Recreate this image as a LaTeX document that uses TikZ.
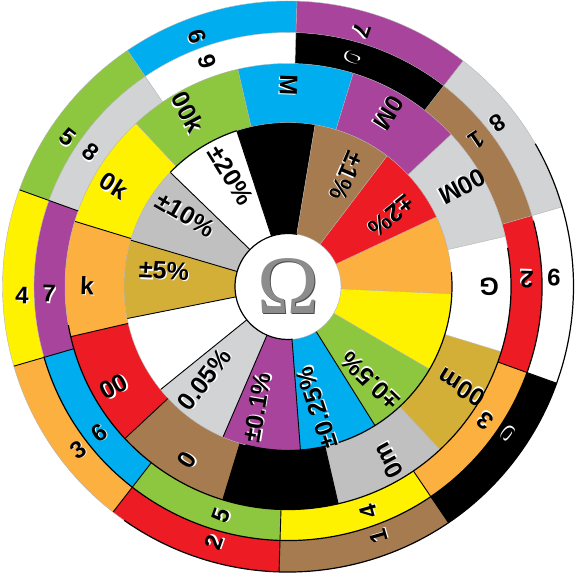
\documentclass[tikz,border=0pt]{standalone}
\usepackage{fontspec}
\setmainfont{Liberation Sans}
\newfontfamily\omegafont{Liberation Serif}
\definecolor{cblack}{HTML}{000000}
\definecolor{cbrown}{HTML}{A67B50}
\definecolor{cred}{HTML}{ED1C24}
\definecolor{corange}{HTML}{FBB040}
\definecolor{cyellow}{HTML}{FFF200}
\definecolor{cgreen}{HTML}{8DC63F}
\definecolor{cblue}{HTML}{00AEEF}
\definecolor{cviolet}{HTML}{A8449C}
\definecolor{cgray}{HTML}{D1D3D4}
\definecolor{cwhite}{HTML}{FFFFFF}
\definecolor{cgold}{HTML}{D4AF37}
\definecolor{csilver}{HTML}{C0C0C0}
\newcommand\ringseg[5]{%
  \fill[#1] (#2:#4) arc[start angle=#2, end angle=#3, radius=#4] -- (#3:#5) arc[start angle=#3, end angle=#2, radius=#5] -- cycle;}
\newcommand\ringarc[4]{%
  \draw[#1] (#2:#4) arc[start angle=#2, end angle=#3, radius=#4];}
\newcommand\shadowtext[1]{\rlap{\hspace{1.2pt}\raisebox{-1.2pt}{\color{white}#1}}#1}
\newcommand\seglabel[6]{%
  \node[lbltext=#4, rotate=#6] (#1) at (#2:#3) {\shadowtext{#5}};}
\begin{document}
\begin{tikzpicture}[x=1pt,y=1pt,
  lbltext/.style={inner sep=0pt, text=black, font=\bfseries\fontsize{#1}{#1}\selectfont},
  edgedark/.style={draw=black, line width=0.9pt},
  edgelight/.style={draw=black!30, line width=0.4pt},
  arcdark/.style={draw=black, line width=1.2pt},
  arclight/.style={draw=black!30, line width=0.4pt}]
\useasboundingbox (-288,-291.5) rectangle (292,286.5);
% ring A (outer digits)
\foreach \s/\c in {88.2/cblue, 124.2/cgreen, 160.2/cyellow, 196.2/corange, 232.2/cred, 268.2/cbrown, 304.2/cblack, 340.2/cwhite, 376.2/cgray, 412.2/cviolet}{
  \pgfmathsetmacro\e{\s+36}
  \ringseg{\c}{\s}{\e}{254}{285.5}}
% ring B (second digit)
\foreach \s/\c in {88.2/cwhite, 124.2/cgray, 160.2/cviolet, 196.2/cblue, 232.2/cgreen, 268.2/cyellow, 304.2/corange, 340.2/cred, 376.2/cbrown, 412.2/cblack}{
  \pgfmathsetmacro\e{\s+36}
  \ringseg{\c}{\s}{\e}{223}{254}}
% ring C (multiplier)
\foreach \c [count=\i from 0] in {cblue, cgreen, cyellow, corange, cred, cbrown, cblack, csilver, cgold, cwhite, cgray, cviolet}{
  \pgfmathsetmacro\s{73+30*\i}
  \pgfmathsetmacro\e{\s+30}
  \ringseg{\c}{\s}{\e}{164}{223}}
% ring D (tolerance)
\foreach \c [count=\i from 0] in {cblack, cwhite, csilver, cgold, cwhite, cgray, cviolet, cblue, cgreen, cyellow, corange, cred, cbrown}{
  \pgfmathsetmacro\s{80.5+\i*360/13}
  \pgfmathsetmacro\e{\s+360/13}
  \ringseg{\c}{\s}{\e}{52}{164}}
% centre disc
\fill[white] (0,0) circle[radius=53];
% radial edges
\foreach \s in {88.2,124.2,160.2,196.2,232.2,268.2,304.2,340.2,16.2,52.2}{
  \pgfmathtruncatemacro\dk{and(\s>=150,\s<=345)}
  \ifnum\dk=1 \draw[edgedark] (\s:223) -- (\s:285.5); \else \draw[edgelight] (\s:223) -- (\s:285.5); \fi}
\foreach \i in {0,...,11}{
  \pgfmathsetmacro\s{mod(73+30*\i,360)}
  \pgfmathtruncatemacro\dk{and(\s>=150,\s<=300)}
  \ifnum\dk=1 \draw[edgedark] (\s:164) -- (\s:223); \else \draw[edgelight] (\s:164) -- (\s:223); \fi}
\foreach \i in {0,...,12}{
  \pgfmathsetmacro\s{mod(80.5+\i*360/13,360)}
  \pgfmathtruncatemacro\dk{and(\s>=100,\s<=310)}
  \ifnum\dk=1 \draw[edgedark] (\s:53) -- (\s:164); \else \draw[edgelight] (\s:53) -- (\s:164); \fi}
% circular edges
\ringarc{arclight}{30}{235}{285.5}
\ringarc{arcdark}{235}{390}{285.5}
\ringarc{arclight}{15}{196}{254}
\ringarc{arcdark}{196}{375}{254}
\ringarc{arclight}{10}{190}{223}
\ringarc{arcdark}{190}{370}{223}
\ringarc{arclight}{5}{108.2}{164}
\ringarc{arcdark}{108.2}{135.9}{164}
\ringarc{arclight}{135.9}{255}{164}
\ringarc{arcdark}{255}{365}{164}
\ringarc{arcdark}{80}{275}{53}
\ringarc{arclight}{275}{440}{53}
% ring A labels
\foreach \s/\t [count=\i] in {88.2/6, 124.2/5, 160.2/4, 196.2/3, 232.2/2, 268.2/1, 304.2/0, 340.2/9, 376.2/8, 412.2/7}{
  \pgfmathsetmacro\la{\s+21.8}
  \pgfmathsetmacro\ro{\s+18+180}
  \seglabel{A\i}{\la}{266}{24}{\t}{\ro}}
% ring B labels
\foreach \s/\t [count=\i] in {88.2/9, 124.2/8, 160.2/7, 196.2/6, 232.2/5, 268.2/4, 304.2/3, 340.2/2, 376.2/1, 412.2/0}{
  \pgfmathsetmacro\la{\s+21.7}
  \pgfmathsetmacro\ro{\s+18+180}
  \seglabel{B\i}{\la}{239}{24}{\t}{\ro}}
% ring C labels
\foreach \k/\t in {0/M, 1/00k, 2/0k, 3/k, 4/00, 5/0, 7/0m, 8/00m, 9/G, 10/00M, 11/0M}{
  \pgfmathsetmacro\la{73+30*\k+17}
  \pgfmathsetmacro\ro{73+30*\k+15+180}
  \seglabel{C\k}{\la}{201}{25}{\t}{\ro}}
% ring D labels
\foreach \k/\t in {1/{±20\%}, 2/{±10\%}, 3/{±5\%}, 5/{0.05\%}, 6/{±0.1\%}, 7/{±0.25\%}, 8/{±0.5\%}, 11/{±2\%}, 12/{±1\%}}{
  \pgfmathsetmacro\la{80.5+\k*360/13+9.35}
  \pgfmathsetmacro\ro{80.5+\k*360/13+13.85+180}
  \seglabel{D\k}{\la}{125}{25}{\t}{\ro}}
% omega
\node[inner sep=0pt, text=black!45, font=\omegafont\fontsize{83}{83}\selectfont] (omega) at (0,0)
  {\rlap{\hspace{1.3pt}\raisebox{-1.3pt}{\color{black!70}Ω}}Ω};
\end{tikzpicture}
\end{document}
